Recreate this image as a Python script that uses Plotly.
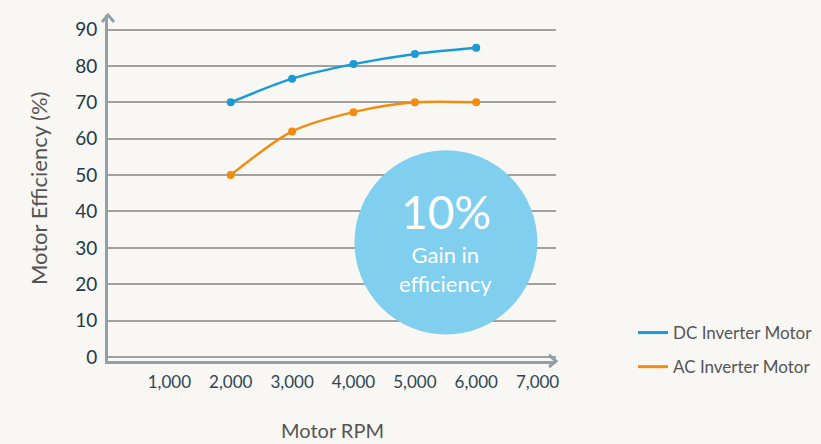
import plotly.graph_objects as go

rpm = [2000, 3000, 4000, 5000, 6000]
dc_efficiency = [70, 76.5, 80.5, 83.3, 85]
ac_efficiency = [50, 62, 67.3, 70, 70]

x_tick_values = [1000, 2000, 3000, 4000, 5000, 6000, 7000]
x_tick_labels = ["1,000", "2,000", "3,000", "4,000", "5,000", "6,000", "7,000"]
y_tick_values = [0, 10, 20, 30, 40, 50, 60, 70, 80, 90]

series = [
    ("DC Inverter Motor", dc_efficiency, "#1a9ad6"),
    ("AC Inverter Motor", ac_efficiency, "#f28c0f"),
]

BG = "#f8f7f4"
AXIS = "#8fa0aa"
FONT = "Lato, Open Sans, sans-serif"

fig = go.Figure()

for name, values, color in series:
    fig.add_trace(
        go.Scatter(
            x=rpm,
            y=values,
            mode="lines+markers",
            line=dict(color=color, width=2.5, shape="spline", smoothing=0.8),
            marker=dict(color=color, size=8),
            showlegend=False,
            hoverinfo="skip",
        )
    )
    # legend entry shows only the line
    fig.add_trace(
        go.Scatter(
            x=[None],
            y=[None],
            mode="lines",
            name=name,
            legendgroup=name,
            line=dict(color=color, width=3),
        )
    )

# big circle callout
fig.add_shape(
    type="circle",
    xref="x", yref="y",
    x0=4016, x1=6996, y0=6.2, y1=56.8,
    fillcolor="#80cfee", line=dict(width=0), layer="above",
)
fig.add_annotation(x=5506, y=40.1, xref="x", yref="y", text="10%", showarrow=False,
                   font=dict(family=FONT, size=46, color="white"))
fig.add_annotation(x=5506, y=24.2, xref="x", yref="y", text="Gain in<br>efficiency",
                   showarrow=False, font=dict(family=FONT, size=22, color="white"))

# axis titles
fig.add_annotation(x=-0.156, y=0.5, xref="paper", yref="paper", xanchor="center",
                   yanchor="middle", text="Motor Efficiency (%)", textangle=-90,
                   showarrow=False, font=dict(family=FONT, size=22, color="#555555"))
fig.add_annotation(x=0.5, y=-0.2, xref="paper", yref="paper", xanchor="center",
                   yanchor="middle", text="Motor RPM", showarrow=False,
                   font=dict(family=FONT, size=20, color="#555555"))

# axis arrowheads
fig.add_shape(type="path", xref="paper", yref="paper",
              xsizemode="pixel", ysizemode="pixel", xanchor=1, yanchor=0,
              path="M -7,6 L 0,0 L -7,-6", line=dict(color=AXIS, width=3))
fig.add_shape(type="path", xref="paper", yref="paper",
              xsizemode="pixel", ysizemode="pixel", xanchor=0, yanchor=1,
              path="M -6,-7 L 0,0 L 6,-7", line=dict(color=AXIS, width=3))

fig.update_layout(
    width=821,
    height=444,
    paper_bgcolor=BG,
    plot_bgcolor=BG,
    margin=dict(l=108, r=265, t=15, b=83, autoexpand=False),
    font=dict(family=FONT, color="#555555"),
    xaxis=dict(
        range=[0, 7300],
        tickvals=x_tick_values,
        ticktext=x_tick_labels,
        tickfont=dict(size=17, color="#2d4654"),
        showgrid=False,
        zeroline=False,
        showline=True,
        linecolor=AXIS,
        linewidth=3,
        ticks="outside",
        ticklen=4,
        tickcolor="rgba(0,0,0,0)",
        automargin=False,
    ),
    yaxis=dict(
        range=[-1.1, 94],
        tickvals=y_tick_values,
        tickfont=dict(size=19, color="#1f3a4a"),
        showgrid=True,
        gridcolor="#a3a19d",
        gridwidth=1.5,
        zeroline=False,
        showline=True,
        linecolor=AXIS,
        linewidth=3,
        ticks="outside",
        ticklen=4,
        tickcolor="rgba(0,0,0,0)",
        automargin=False,
    ),
    legend=dict(
        xref="container", yref="container",
        x=0.771, y=0.2905, xanchor="left", yanchor="top",
        font=dict(size=17, color="#555555"),
        bgcolor="rgba(0,0,0,0)",
        tracegroupgap=9,
    ),
)

fig.write_html("out.html", config={"displayModeBar": False},
               post_script="document.body.style.margin='0';")
